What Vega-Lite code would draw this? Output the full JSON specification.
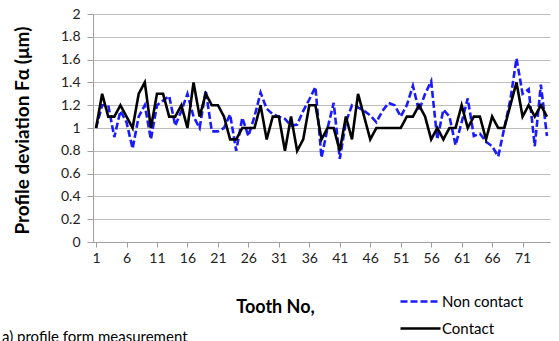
{
  "$schema": "https://vega.github.io/schema/vega-lite/v6.json",
  "width": 457,
  "height": 228,
  "autosize": "none",
  "padding": {"left": 93, "top": 14, "right": 9, "bottom": 99},
  "background": "white",
  "title": {"text": "a) profile form measurement", "orient": "bottom", "anchor": "start", "frame": "group", "dx": -91, "offset": -7, "fontSize": 15, "fontWeight": "normal", "font": "Lato", "color": "#000000"},
  "data": {"values": [
    {"n":1,"Non contact":1.0,"Contact":1.0},
    {"n":2,"Non contact":1.2,"Contact":1.3},
    {"n":3,"Non contact":1.2,"Contact":1.1},
    {"n":4,"Non contact":0.92,"Contact":1.1},
    {"n":5,"Non contact":1.15,"Contact":1.2},
    {"n":6,"Non contact":1.05,"Contact":1.1},
    {"n":7,"Non contact":0.82,"Contact":1.0},
    {"n":8,"Non contact":1.1,"Contact":1.3},
    {"n":9,"Non contact":1.2,"Contact":1.4},
    {"n":10,"Non contact":0.9,"Contact":1.0},
    {"n":11,"Non contact":1.2,"Contact":1.3},
    {"n":12,"Non contact":1.24,"Contact":1.3},
    {"n":13,"Non contact":1.28,"Contact":1.1},
    {"n":14,"Non contact":1.02,"Contact":1.1},
    {"n":15,"Non contact":1.15,"Contact":1.2},
    {"n":16,"Non contact":1.3,"Contact":1.0},
    {"n":17,"Non contact":1.1,"Contact":1.4},
    {"n":18,"Non contact":1.0,"Contact":1.1},
    {"n":19,"Non contact":1.33,"Contact":1.3},
    {"n":20,"Non contact":0.97,"Contact":1.2},
    {"n":21,"Non contact":0.97,"Contact":1.2},
    {"n":22,"Non contact":1.0,"Contact":1.1},
    {"n":23,"Non contact":1.12,"Contact":0.9},
    {"n":24,"Non contact":0.8,"Contact":0.9},
    {"n":25,"Non contact":1.09,"Contact":1.0},
    {"n":26,"Non contact":0.93,"Contact":1.0},
    {"n":27,"Non contact":1.1,"Contact":1.0},
    {"n":28,"Non contact":1.31,"Contact":1.2},
    {"n":29,"Non contact":1.17,"Contact":0.9},
    {"n":30,"Non contact":1.12,"Contact":1.1},
    {"n":31,"Non contact":1.1,"Contact":1.1},
    {"n":32,"Non contact":1.08,"Contact":0.8},
    {"n":33,"Non contact":1.02,"Contact":1.1},
    {"n":34,"Non contact":1.03,"Contact":0.8},
    {"n":35,"Non contact":1.15,"Contact":0.9},
    {"n":36,"Non contact":1.25,"Contact":1.2},
    {"n":37,"Non contact":1.36,"Contact":1.2},
    {"n":38,"Non contact":0.74,"Contact":0.9},
    {"n":39,"Non contact":1.0,"Contact":1.0},
    {"n":40,"Non contact":1.22,"Contact":1.0},
    {"n":41,"Non contact":0.73,"Contact":0.8},
    {"n":42,"Non contact":1.05,"Contact":1.1},
    {"n":43,"Non contact":1.2,"Contact":0.9},
    {"n":44,"Non contact":1.18,"Contact":1.3},
    {"n":45,"Non contact":1.15,"Contact":1.1},
    {"n":46,"Non contact":1.11,"Contact":0.9},
    {"n":47,"Non contact":1.05,"Contact":1.0},
    {"n":48,"Non contact":1.15,"Contact":1.0},
    {"n":49,"Non contact":1.22,"Contact":1.0},
    {"n":50,"Non contact":1.2,"Contact":1.0},
    {"n":51,"Non contact":1.1,"Contact":1.0},
    {"n":52,"Non contact":1.2,"Contact":1.1},
    {"n":53,"Non contact":1.37,"Contact":1.1},
    {"n":54,"Non contact":1.15,"Contact":1.2},
    {"n":55,"Non contact":1.3,"Contact":1.1},
    {"n":56,"Non contact":1.41,"Contact":0.9},
    {"n":57,"Non contact":0.9,"Contact":1.0},
    {"n":58,"Non contact":1.16,"Contact":0.9},
    {"n":59,"Non contact":1.1,"Contact":1.0},
    {"n":60,"Non contact":0.85,"Contact":1.0},
    {"n":61,"Non contact":1.05,"Contact":1.2},
    {"n":62,"Non contact":1.26,"Contact":1.0},
    {"n":63,"Non contact":0.93,"Contact":1.1},
    {"n":64,"Non contact":0.95,"Contact":1.1},
    {"n":65,"Non contact":0.88,"Contact":0.9},
    {"n":66,"Non contact":0.84,"Contact":1.1},
    {"n":67,"Non contact":0.75,"Contact":1.0},
    {"n":68,"Non contact":1.0,"Contact":1.0},
    {"n":69,"Non contact":1.25,"Contact":1.2},
    {"n":70,"Non contact":1.61,"Contact":1.4},
    {"n":71,"Non contact":1.3,"Contact":1.1},
    {"n":72,"Non contact":1.34,"Contact":1.2},
    {"n":73,"Non contact":0.84,"Contact":1.1},
    {"n":74,"Non contact":1.38,"Contact":1.2},
    {"n":75,"Non contact":0.93,"Contact":1.1}
  ]},
  "transform": [{"fold": ["Non contact", "Contact"], "as": ["series", "v"]}],
  "mark": {"type": "line", "strokeWidth": 2.6},
  "encoding": {
    "x": {
      "field": "n", "type": "quantitative",
      "scale": {"domain": [0.5, 75.5], "nice": false, "zero": false},
      "axis": {
        "values": [1, 6, 11, 16, 21, 26, 31, 36, 41, 46, 51, 56, 61, 66, 71],
        "title": "Tooth No,", "grid": false,
        "domainColor": "#a0a0a0", "tickColor": "#a0a0a0", "tickSize": 5,
        "labelFont": "Lato", "labelFontSize": 14, "labelColor": "#222222", "labelPadding": 4,
        "titleFont": "Lato", "titleFontSize": 18, "titleFontWeight": "bold", "titleColor": "#000000",
        "titleX": 182, "titleY": 65, "titleBaseline": "middle", "titleAlign": "center"
      }
    },
    "y": {
      "field": "v", "type": "quantitative",
      "scale": {"domain": [0, 2], "nice": false},
      "axis": {
        "values": [0, 0.2, 0.4, 0.6, 0.8, 1, 1.2, 1.4, 1.6, 1.8, 2],
        "format": "~g",
        "title": "Profile deviation Fα (μm)",
        "grid": true, "gridColor": "#bdbdbd", "gridWidth": 1,
        "domainColor": "#a0a0a0", "tickColor": "#a0a0a0", "tickSize": 6,
        "labelFont": "Lato", "labelFontSize": 14, "labelColor": "#222222", "labelPadding": 7,
        "titleFont": "Lato", "titleFontSize": 19, "titleFontWeight": "bold", "titleColor": "#000000",
        "titleX": -71, "titleY": 116, "titleBaseline": "middle", "titleAlign": "center", "titleAngle": -90
      }
    },
    "color": {
      "field": "series", "type": "nominal",
      "scale": {"domain": ["Non contact", "Contact"], "range": ["#1a1aff", "#000000"]},
      "legend": {
        "title": null, "orient": "none", "legendX": 316, "legendY": 276,
        "symbolType": "M-2,0H2", "symbolSize": 400, "symbolStrokeWidth": 2.6,
        "labelFont": "Lato", "labelFontSize": 15, "labelColor": "#000000", "labelOffset": 10,
        "rowPadding": 7
      }
    },
    "strokeDash": {
      "field": "series", "type": "nominal",
      "scale": {"domain": ["Non contact", "Contact"], "range": [[7, 3], [1, 0]]},
      "legend": {
        "title": null, "orient": "none", "legendX": 316, "legendY": 276,
        "symbolType": "M-2,0H2", "symbolSize": 400, "symbolStrokeWidth": 2.6,
        "labelFont": "Lato", "labelFontSize": 15, "labelColor": "#000000", "labelOffset": 10,
        "rowPadding": 7
      }
    }
  },
  "config": {"view": {"stroke": null}}
}
